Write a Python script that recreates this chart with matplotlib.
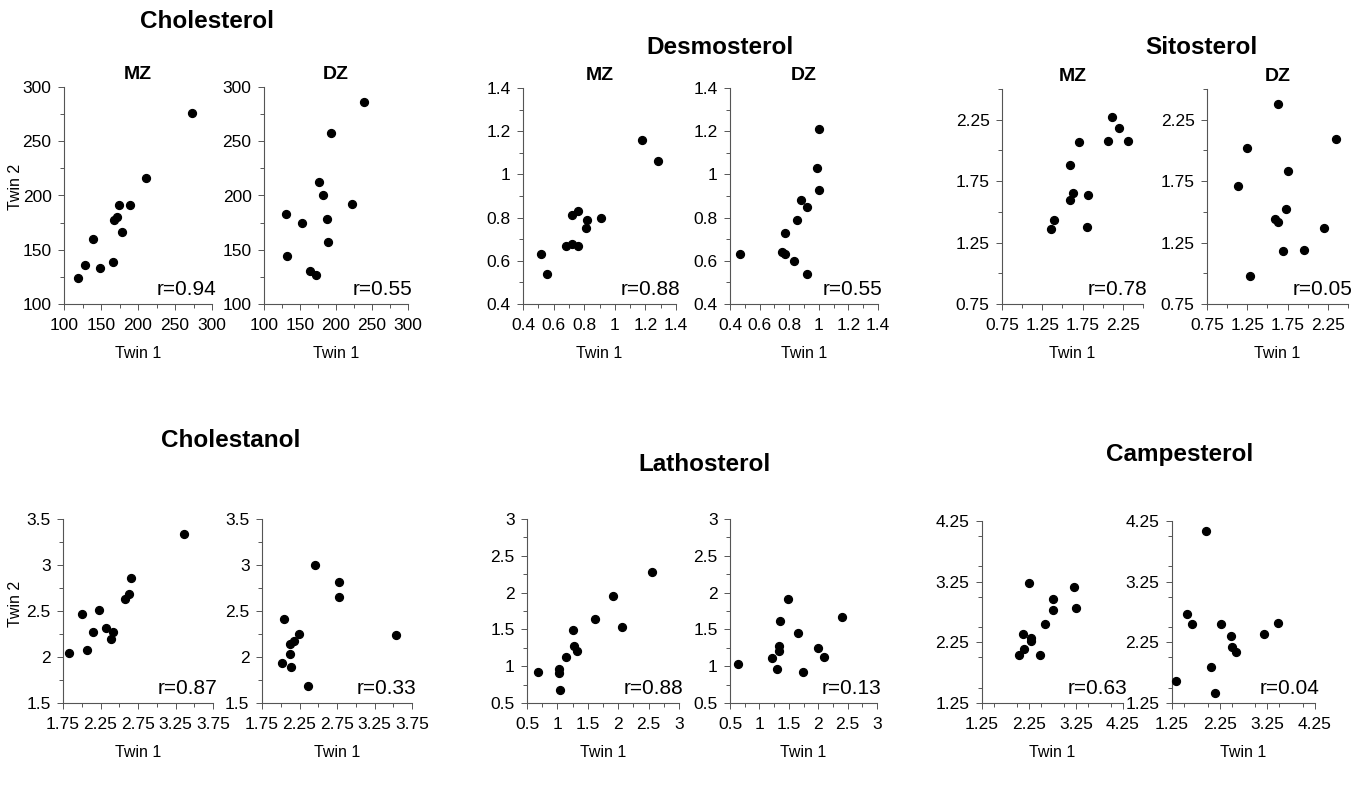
import matplotlib.pyplot as plt
from matplotlib.ticker import MultipleLocator, FixedLocator

plt.rcParams['font.family'] = ['Liberation Sans', 'DejaVu Sans']

W, H = 1366, 791

# --- data (Twin 1, Twin 2) ---
chol_mz_t1 = [119, 128, 139, 149, 166, 168, 172, 174, 179, 189, 211, 273]
chol_mz_t2 = [124, 136, 160, 133, 139, 177, 180, 191, 166, 191, 216, 276]
chol_dz_t1 = [131, 132, 153, 164, 172, 176, 182, 188, 189, 193, 222, 239]
chol_dz_t2 = [183, 144, 175, 130, 127, 212, 200, 178, 157, 258, 192, 286]

desm_mz_t1 = [0.52, 0.56, 0.68, 0.72, 0.72, 0.76, 0.76, 0.81, 0.82, 0.91, 1.18, 1.28]
desm_mz_t2 = [0.63, 0.54, 0.67, 0.81, 0.68, 0.83, 0.67, 0.75, 0.79, 0.80, 1.16, 1.06]
desm_dz_t1 = [0.47, 0.75, 0.77, 0.77, 0.83, 0.85, 0.88, 0.92, 0.92, 0.99, 1.00, 1.00]
desm_dz_t2 = [0.63, 0.64, 0.63, 0.73, 0.60, 0.79, 0.88, 0.85, 0.54, 1.03, 1.21, 0.93]

sito_mz_t1 = [1.36, 1.40, 1.59, 1.59, 1.63, 1.71, 1.81, 1.82, 2.06, 2.12, 2.20, 2.32]
sito_mz_t2 = [1.36, 1.43, 1.88, 1.60, 1.65, 2.07, 1.38, 1.64, 2.08, 2.27, 2.18, 2.08]
sito_dz_t1 = [1.13, 1.25, 1.28, 1.60, 1.63, 1.63, 1.69, 1.73, 1.75, 1.95, 2.20, 2.35]
sito_dz_t2 = [1.71, 2.02, 0.98, 1.44, 2.38, 1.42, 1.18, 1.52, 1.83, 1.19, 1.37, 2.09]

chtn_mz_t1 = [1.83, 2.00, 2.07, 2.15, 2.23, 2.32, 2.39, 2.41, 2.57, 2.63, 2.65, 3.36]
chtn_mz_t2 = [2.04, 2.47, 2.08, 2.27, 2.51, 2.32, 2.20, 2.27, 2.63, 2.68, 2.86, 3.34]
chtn_dz_t1 = [2.02, 2.04, 2.12, 2.12, 2.14, 2.18, 2.24, 2.36, 2.46, 2.78, 2.78, 3.53]
chtn_dz_t2 = [1.94, 2.41, 2.03, 2.14, 1.89, 2.17, 2.25, 1.68, 3.00, 2.81, 2.65, 2.24]

lath_mz_t1 = [0.68, 1.02, 1.02, 1.05, 1.14, 1.26, 1.28, 1.32, 1.62, 1.92, 2.06, 2.56]
lath_mz_t2 = [0.92, 0.96, 0.91, 0.68, 1.12, 1.49, 1.27, 1.21, 1.64, 1.95, 1.53, 2.28]
lath_dz_t1 = [0.64, 1.21, 1.30, 1.33, 1.34, 1.35, 1.48, 1.65, 1.74, 1.99, 2.10, 2.41]
lath_dz_t2 = [1.03, 1.11, 0.96, 1.28, 1.20, 1.61, 1.91, 1.45, 0.92, 1.25, 1.12, 1.67]

camp_mz_t1 = [2.03, 2.14, 2.13, 2.26, 2.29, 2.29, 2.49, 2.58, 2.76, 2.77, 3.21, 3.26]
camp_mz_t2 = [2.04, 2.14, 2.39, 3.22, 2.32, 2.27, 2.04, 2.56, 2.79, 2.96, 3.16, 2.82]
camp_dz_t1 = [1.34, 1.56, 1.67, 1.97, 2.07, 2.15, 2.28, 2.48, 2.51, 2.60, 3.17, 3.47]
camp_dz_t2 = [1.61, 2.72, 2.56, 4.08, 1.84, 1.41, 2.56, 2.36, 2.18, 2.09, 2.38, 2.57]

r_mz = {'Cholesterol': 0.94, 'Desmosterol': 0.88, 'Sitosterol': 0.78,
        'Cholestanol': 0.87, 'Lathosterol': 0.88, 'Campesterol': 0.63}
r_dz = {'Cholesterol': 0.55, 'Desmosterol': 0.55, 'Sitosterol': 0.05,
        'Cholestanol': 0.33, 'Lathosterol': 0.13, 'Campesterol': 0.04}

# name, (mz data), (dz data), limits, major ticks, minor step, tick fmt
panels = [
    ('Cholesterol', (chol_mz_t1, chol_mz_t2), (chol_dz_t1, chol_dz_t2),
     (100, 300), [100, 150, 200, 250, 300], 25, '%g'),
    ('Desmosterol', (desm_mz_t1, desm_mz_t2), (desm_dz_t1, desm_dz_t2),
     (0.4, 1.4), [0.4, 0.6, 0.8, 1.0, 1.2, 1.4], 0.1, '%g'),
    ('Sitosterol', (sito_mz_t1, sito_mz_t2), (sito_dz_t1, sito_dz_t2),
     (0.75, 2.5), [0.75, 1.25, 1.75, 2.25], 0.25, '%.2f'),
    ('Cholestanol', (chtn_mz_t1, chtn_mz_t2), (chtn_dz_t1, chtn_dz_t2),
     (1.5, 3.5), [1.5, 2, 2.5, 3, 3.5], 0.25, '%g'),
    ('Lathosterol', (lath_mz_t1, lath_mz_t2), (lath_dz_t1, lath_dz_t2),
     (0.5, 3), [0.5, 1, 1.5, 2, 2.5, 3], 0.25, '%g'),
    ('Campesterol', (camp_mz_t1, camp_mz_t2), (camp_dz_t1, camp_dz_t2),
     (1.25, 4.25), [1.25, 2.25, 3.25, 4.25], 0.5, '%.2f'),
]
x_overrides = {
    'Cholestanol': ((1.75, 3.75), [1.75, 2.25, 2.75, 3.25, 3.75], 0.25, '%.2f'),
}

# pixel boxes (x0, x1, y0, y1) for MZ and DZ axes, and title positions
boxes = {
    'Cholesterol': ((64, 212, 87, 304), (264, 408, 87, 304), (207, 22)),
    'Desmosterol': ((523, 676, 88, 304), (730, 878, 88, 304), (720, 47)),
    'Sitosterol': ((1002, 1143, 89, 304), (1207, 1348, 89, 304), (1201, 47)),
    'Cholestanol': ((63, 213, 519, 703), (262, 412, 519, 703), (231, 440)),
    'Lathosterol': ((527, 679, 519, 703), (730, 877, 519, 703), (704, 465)),
    'Campesterol': ((982, 1123, 521, 703), (1172, 1315, 521, 703), (1180, 455)),
}

fig = plt.figure(figsize=(W / 100, H / 100), dpi=100)
fig.patch.set_facecolor('white')


def px_axes(box):
    x0, x1, y0, y1 = box
    return fig.add_axes([x0 / W, 1 - y1 / H, (x1 - x0) / W, (y1 - y0) / H])


for row, (name, mz, dz, lim, ticks, minor, fmt) in enumerate(panels):
    mz_box, dz_box, (tx, ty) = boxes[name]
    fig.text(tx / W, 1 - ty / H, name, ha='center', va='center',
             fontsize=17.5, fontweight='bold')
    xlim, xticks, xminor, xfmt = x_overrides.get(name, (lim, ticks, minor, fmt))
    for kind, box, (t1, t2), r in (('MZ', mz_box, mz, r_mz[name]),
                                   ('DZ', dz_box, dz, r_dz[name])):
        ax = px_axes(box)
        ax.scatter(t1, t2, s=32, color='black', zorder=3, clip_on=False)
        ax.set_xlim(*xlim)
        ax.set_ylim(*lim)
        ax.xaxis.set_major_locator(FixedLocator(xticks))
        ax.yaxis.set_major_locator(FixedLocator(ticks))
        ax.xaxis.set_minor_locator(MultipleLocator(xminor))
        ax.yaxis.set_minor_locator(MultipleLocator(minor))
        ax.set_xticklabels([xfmt % v for v in xticks])
        ax.set_yticklabels([fmt % v for v in ticks])
        for s in ('top', 'right'):
            ax.spines[s].set_visible(False)
        for s in ('left', 'bottom'):
            ax.spines[s].set_color('#555555')
            ax.spines[s].set_linewidth(0.8)
        ax.tick_params(which='both', direction='out', color='#555555',
                       width=0.7, labelsize=12.5)
        ax.tick_params(axis='x', which='major', pad=6)
        ax.tick_params(axis='y', which='major', pad=5)
        ax.tick_params(which='major', length=4)
        ax.tick_params(which='minor', length=3)
        ax.set_xlabel('Twin 1', fontsize=11.5, labelpad=9.5)
        if name in ('Cholesterol', 'Cholestanol') and kind == 'MZ':
            ax.set_ylabel('Twin 2', fontsize=11.5)
            x0, x1 = box[0], box[1]
            ax.yaxis.set_label_coords((23 - x0) / (x1 - x0), 0.54)
        ax.text(1.03, 0.025, 'r=%.2f' % r, transform=ax.transAxes,
                ha='right', va='bottom', fontsize=15)
        if row < 3:
            ax.set_title(kind, fontsize=14, fontweight='bold', pad=6)

fig.savefig('out.png', dpi=100)
